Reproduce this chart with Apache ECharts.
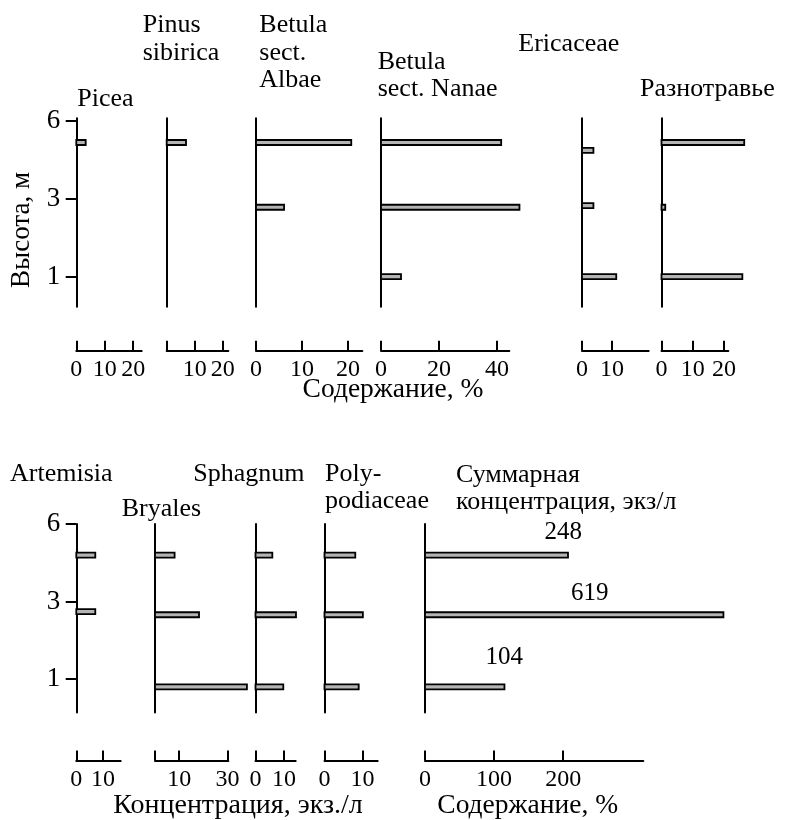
<!DOCTYPE html>
<html><head><meta charset="utf-8">
<script src="https://cdn.jsdelivr.net/npm/echarts@6/dist/echarts.min.js"></script>
<style>html,body{margin:0;padding:0;background:#fff}#c{width:785px;height:820px}</style>
</head><body><div id="c"></div>
<script>
// ---- data ----
const heightTickLabels = ['1', '3', '6'];          // labels at axis units 0,1,2
const topLevels = [1.72, 0.89, 0.0];               // sample positions (axis units)
const ericaceaeLevels = [1.62, 0.91, 0.0];
const bottomLevels = [1.6, 0.83, -0.1];
const artemisiaLevels = [1.6, 0.87, -0.1];

const picea = [3.3, null, null];
const pinusSibirica = [6.9, null, null];
const betulaAlbae = [20.7, 6.1, null];
const betulaNanae = [41.4, 47.7, 6.9];
const ericaceae = [3.8, 3.8, 11.4];
const raznotravie = [26.5, 1.2, 25.9];
const artemisia = [7.1, 7.1, null];
const bryales = [8.1, 18.2, 38];
const sphagnum = [5.9, 14.2, 9.75];
const polypodiaceae = [8.1, 10.1, 9.0];
const summaryPercent = [207, 432, 115];
const summaryConcentration = [248, 619, 104];

const ticks0_10_20 = [0, 10, 20];
const labels10_20 = [10, 20];
const ticks0_10 = [0, 10];
const ticksNanae = [0, 20, 40];
const ticksBryales = [0, 10, 30];
const labelsBryales = [10, 30];
const ticksSummary = [0, 100, 200];

const titles = {
  picea: 'Picea', pinus: 'Pinus\nsibirica', albae: 'Betula\nsect.\nAlbae',
  nanae: 'Betula\nsect. Nanae', eric: 'Ericaceae', razn: 'Разнотравье',
  art: 'Artemisia', bry: 'Bryales', sph: 'Sphagnum', poly: 'Poly-\npodiaceae',
  sum: 'Суммарная\nконцентрация, экз/л'
};
const yAxisTitle = 'Высота, м';
const xTitleTop = 'Содержание, %';
const xTitleBottomLeft = 'Концентрация, экз./л';
const xTitleBottomRight = 'Содержание, %';

// ---- layout ----
const FONT = '"Liberation Serif", "Times New Roman", serif';
const rows = [
  { top: 118.3, height: 188.4, min: -0.385, max: 2.03, offset: 44 },
  { top: 524, height: 188.5, min: -0.43, max: 2.0, offset: 48 }
];
const panels = [
  { v: picea, lv: topLevels, row: 0, l: 76.3, r: 141.7, xMax: 23, t: ticks0_10_20, lb: ticks0_10_20, yLab: true, title: titles.picea, tl: 77.3, tt: 85 },
  { v: pinusSibirica, lv: topLevels, row: 0, l: 166.7, r: 228.3, xMax: 22, t: ticks0_10_20, lb: labels10_20, title: titles.pinus, tl: 142.7, tt: 11.7 },
  { v: betulaAlbae, lv: topLevels, row: 0, l: 256, r: 362.3, xMax: 23.1, t: ticks0_10_20, lb: ticks0_10_20, title: titles.albae, tl: 259.3, tt: 11.7 },
  { v: betulaNanae, lv: topLevels, row: 0, l: 381, r: 509.3, xMax: 44.2, t: ticksNanae, lb: ticksNanae, title: titles.nanae, tl: 377.7, tt: 48 },
  { v: ericaceae, lv: ericaceaeLevels, row: 0, l: 582, r: 648.7, xMax: 22.2, t: ticks0_10, lb: ticks0_10, title: titles.eric, tl: 518.3, tt: 30 },
  { v: raznotravie, lv: topLevels, row: 0, l: 661.5, r: 728.3, xMax: 21.4, t: ticks0_10_20, lb: ticks0_10_20, title: titles.razn, tl: 640, tt: 75 },
  { v: artemisia, lv: artemisiaLevels, row: 1, l: 76.3, r: 120.7, xMax: 16.6, t: ticks0_10, lb: ticks0_10, yLab: true, title: titles.art, tl: 10, tt: 460 },
  { v: bryales, lv: bottomLevels, row: 1, l: 155, r: 228.3, xMax: 30.3, t: ticksBryales, lb: labelsBryales, title: titles.bry, tl: 121.7, tt: 495 },
  { v: sphagnum, lv: bottomLevels, row: 1, l: 255.5, r: 295.7, xMax: 14.1, t: ticks0_10, lb: ticks0_10, title: titles.sph, tl: 193.3, tt: 460 },
  { v: polypodiaceae, lv: bottomLevels, row: 1, l: 324.5, r: 377.7, xMax: 14, t: ticks0_10, lb: ticks0_10, title: titles.poly, tl: 325, tt: 460 },
  { v: summaryPercent, lv: bottomLevels, row: 1, l: 425, r: 643.3, xMax: 316, t: ticksSummary, lb: ticksSummary, title: titles.sum, tl: 456, tt: 461, summary: true }
];
const summaryLabelOffsets = [[-4.7, -22.3], [-133.7, -21], [-0.3, -29.4]];
const BAR_H = 5;

const grid = [], xAxis = [], yAxis = [], series = [], title = [];
panels.forEach((p, i) => {
  const row = rows[p.row];
  grid.push({ left: p.l, top: row.top, width: p.r - p.l, height: row.height, outerBoundsMode: 'none', containLabel: false });
  xAxis.push({
    type: 'value', gridIndex: i, min: 0, max: p.xMax, position: 'bottom', offset: row.offset,
    axisLine: { show: true, onZero: false, lineStyle: { color: '#000', width: 2 } },
    axisTick: { show: true, inside: true, length: 10, customValues: p.t, lineStyle: { color: '#000', width: 2 } },
    axisLabel: { show: true, customValues: p.lb, margin: 7, color: '#000', fontFamily: FONT, fontSize: 24 },
    splitLine: { show: false }
  });
  yAxis.push({
    type: 'value', gridIndex: i, min: row.min, max: row.max, position: 'left',
    axisLine: { show: true, onZero: false, lineStyle: { color: '#000', width: 2 } },
    axisTick: { show: !!p.yLab, length: 10.6, customValues: [0, 1, 2], lineStyle: { color: '#000', width: 2 } },
    axisLabel: { show: !!p.yLab, customValues: [0, 1, 2], margin: 16, color: '#000', fontFamily: FONT, fontSize: 27,
      formatter: v => heightTickLabels[Math.round(v)] },
    splitLine: { show: false }
  });
  const data = [];
  p.v.forEach((val, k) => { if (val != null) data.push({ value: [val, p.lv[k]], idx: k }); });
  series.push({
    type: 'custom', xAxisIndex: i, yAxisIndex: i, clip: false, data,
    renderItem: (params, api) => {
      const val = api.value(0), lv = api.value(1);
      const p0 = api.coord([0, lv]), p1 = api.coord([val, lv]);
      const children = [{
        type: 'rect',
        shape: { x: p0[0], y: p0[1] - BAR_H / 2, width: p1[0] - p0[0], height: BAR_H },
        style: { fill: '#b4b4b4', stroke: '#000', lineWidth: 1.8 }
      }];
      if (p.summary) {
        const k = data[params.dataIndex].idx;
        const off = summaryLabelOffsets[k];
        children.push({
          type: 'text', x: p1[0] + off[0], y: p1[1] + off[1],
          style: { text: String(summaryConcentration[k]), fill: '#000', font: '25px ' + FONT, align: 'center', verticalAlign: 'middle' }
        });
      }
      return { type: 'group', children };
    }
  });
  title.push({
    text: p.title, left: p.tl, top: p.tt, padding: 0,
    textStyle: { fontFamily: FONT, fontSize: 26, fontWeight: 'normal', color: '#000', lineHeight: 27.5 }
  });
});

const chart = echarts.init(document.getElementById('c'));
chart.setOption({
  animation: false,
  backgroundColor: '#fff',
  title, grid, xAxis, yAxis, series,
  graphic: [
    { type: 'text', x: 21.7, y: 230, rotation: Math.PI / 2,
      style: { text: yAxisTitle, fill: '#000', font: '27px ' + FONT, align: 'center', verticalAlign: 'middle' } },
    { type: 'text', x: 393, y: 390,
      style: { text: xTitleTop, fill: '#000', font: '27.5px ' + FONT, align: 'center', verticalAlign: 'middle' } },
    { type: 'text', x: 238, y: 806,
      style: { text: xTitleBottomLeft, fill: '#000', font: '28px ' + FONT, align: 'center', verticalAlign: 'middle' } },
    { type: 'text', x: 527.7, y: 806,
      style: { text: xTitleBottomRight, fill: '#000', font: '27.5px ' + FONT, align: 'center', verticalAlign: 'middle' } }
  ]
});
</script></body></html>
